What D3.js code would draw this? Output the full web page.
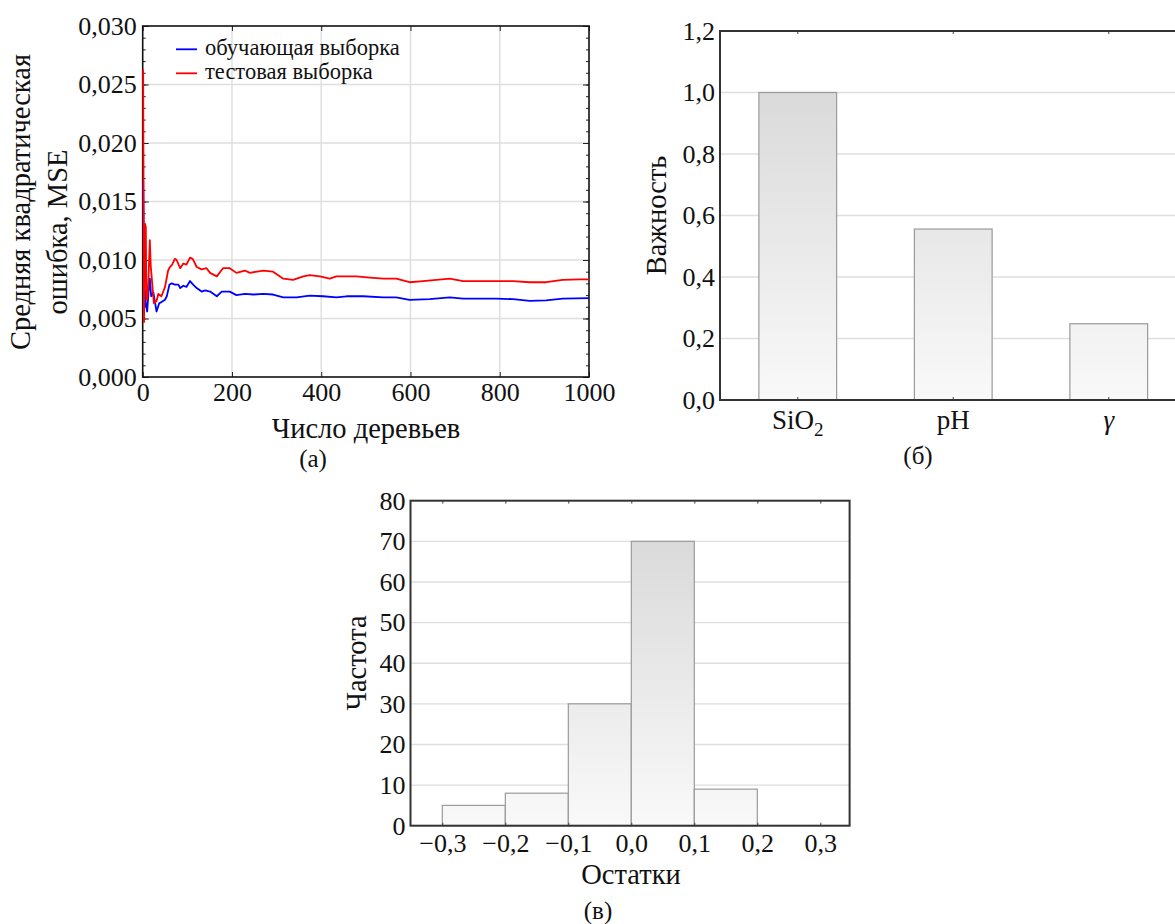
<!DOCTYPE html>
<html><head><meta charset="utf-8">
<script src="https://cdn.jsdelivr.net/npm/d3@7"></script>
<style>
body{margin:0;background:#fff}
svg{display:block}
text{font-family:"Liberation Serif","Times New Roman",serif;fill:#111}
</style>
</head><body>
<svg id="chart" width="1175" height="924"></svg>
<script>
// ---------- DATA ----------
// (а) MSE vs number of trees
const trainTrees = [1,3,4,5,7,10,13,16,19,24,28,31,37,42,50,54,60,65,72,80,84,91,98,106,113,121,132,140,151,166,177,195,210,229,248,270,292,315,345,374,404,434,457,494,539,568,598,643,688,718,755,792,830,867,904,941,1000];
const trainMSE = [0.0168,0.0090,0.0060,0.0074,0.0063,0.0056,0.0072,0.0084,0.0069,0.0072,0.0063,0.0056,0.0063,0.0064,0.0066,0.0069,0.0079,0.0080,0.0079,0.0079,0.0076,0.0078,0.0077,0.0082,0.0079,0.0076,0.0073,0.0074,0.0073,0.0069,0.0073,0.0073,0.0070,0.0071,0.00705,0.0071,0.00705,0.0068,0.0068,0.00695,0.0069,0.0068,0.0069,0.0069,0.0068,0.0068,0.0066,0.00665,0.0068,0.0067,0.0067,0.0067,0.00665,0.0065,0.00655,0.0067,0.00675];
const testTrees = [1,3,4,5,7,8,9,11,13,16,18,20,25,31,35,42,50,57,61,66,72,76,84,91,98,106,112,121,132,143,151,166,180,195,210,229,240,270,292,315,337,360,374,397,419,434,479,509,539,568,598,628,688,718,755,792,830,867,904,941,979,1000];
const testMSE = [0.0263,0.0047,0.0090,0.0131,0.0128,0.0075,0.0066,0.0070,0.0085,0.0117,0.0095,0.0086,0.0063,0.0065,0.0071,0.0069,0.0077,0.0091,0.0094,0.0096,0.0101,0.0100,0.0093,0.0097,0.0096,0.0102,0.0101,0.0094,0.0092,0.0093,0.0089,0.0086,0.0093,0.0093,0.0089,0.0091,0.0089,0.0091,0.0090,0.0084,0.0083,0.0086,0.0087,0.0086,0.0084,0.0086,0.0086,0.0085,0.0084,0.0084,0.0081,0.0082,0.0084,0.0082,0.0082,0.0082,0.0082,0.0081,0.0081,0.0083,0.00835,0.00835];
const seriesNames = ["обучающая выборка","тестовая выборка"];
const seriesColors = ["#0000ff","#ff0000"];
const mseTicks = [0,0.005,0.010,0.015,0.020,0.025,0.030];
const treeTicks = [0,200,400,600,800,1000];

// (б) feature importance
const featureNames = ["SiO2","pH","gamma"];
const importance = [1.0,0.556,0.248];
const importanceTicks = [0,0.2,0.4,0.6,0.8,1.0,1.2];

// (в) residual histogram
const binStart = [-0.3,-0.2,-0.1,0.0,0.1,0.2];
const binEnd = [-0.2,-0.1,0.0,0.1,0.2,0.3];
const binCounts = [5,8,30,70,9,0];
const residualTicks = [-0.3,-0.2,-0.1,0.0,0.1,0.2,0.3];
const countTicks = [0,10,20,30,40,50,60,70,80];

// ---------- HELPERS ----------
const svg = d3.select("#chart");
const comma = f => v => d3.format(f)(v).replace(".", ",");
const TICK_FS = 26, TITLE_FS = 28.5, SUB_FS = 25;
function styleAxis(g, fs){
  g.attr("font-family", null).attr("font-size", null);
  g.select(".domain").remove();
  g.selectAll("text").style("font-size", fs + "px").attr("fill", "#111");
  return g;
}
function gradient(id, y1, y2){
  const lg = svg.append("defs").append("linearGradient").attr("id", id)
    .attr("gradientUnits","userSpaceOnUse").attr("x1",0).attr("x2",0).attr("y1",y1).attr("y2",y2);
  lg.append("stop").attr("offset",0).attr("stop-color","#dadada");
  lg.append("stop").attr("offset",1).attr("stop-color","#f9f9f9");
}

// ---------- PANEL (а) ----------
const A = {l:142.7, r:589, t:26, b:377};
const xA = d3.scaleLinear().domain([0,1000]).range([A.l,A.r]);
const yA = d3.scaleLinear().domain([0,0.030]).range([A.b,A.t]);
const gA = svg.append("g");
// grid
gA.append("g").selectAll("line").data(treeTicks.slice(1,-1)).join("line")
  .attr("x1",d=>xA(d)).attr("x2",d=>xA(d)).attr("y1",A.t).attr("y2",A.b)
  .attr("stroke","#dedede").attr("stroke-width",1.4);
gA.append("g").selectAll("line").data(mseTicks.slice(1,-1)).join("line")
  .attr("x1",A.l).attr("x2",A.r).attr("y1",d=>yA(d)).attr("y2",d=>yA(d))
  .attr("stroke","#dedede").attr("stroke-width",1.4);
// minor ticks
const minorA = d3.range(0, 0.0305, 0.001);
gA.append("g").attr("transform",`translate(${A.l},0)`)
  .call(d3.axisLeft(yA).tickValues(minorA).tickSize(-3).tickFormat(""))
  .call(g=>styleAxis(g,TICK_FS)).selectAll("line").attr("stroke","#222");
gA.append("g").attr("transform",`translate(${A.r},0)`)
  .call(d3.axisRight(yA).tickValues(minorA).tickSize(-3).tickFormat(""))
  .call(g=>styleAxis(g,TICK_FS)).selectAll("line").attr("stroke","#222");
// major ticks + labels
gA.append("g").attr("transform",`translate(${A.l},0)`)
  .call(d3.axisLeft(yA).tickValues(mseTicks).tickSize(-6).tickPadding(6).tickFormat(comma(".3f")))
  .call(g=>styleAxis(g,TICK_FS)).selectAll("line").attr("stroke","#222");
gA.append("g").attr("transform",`translate(${A.r},0)`)
  .call(d3.axisRight(yA).tickValues(mseTicks).tickSize(-6).tickFormat(""))
  .call(g=>styleAxis(g,TICK_FS)).selectAll("line").attr("stroke","#222");
gA.append("g").attr("transform",`translate(0,${A.b})`)
  .call(d3.axisBottom(xA).tickValues(treeTicks).tickSize(-5).tickPadding(6).tickFormat(d3.format("d")))
  .call(g=>styleAxis(g,TICK_FS)).selectAll("line").attr("stroke","#222");
gA.append("g").attr("transform",`translate(0,${A.t})`)
  .call(d3.axisTop(xA).tickValues(treeTicks).tickSize(-5).tickFormat(""))
  .call(g=>styleAxis(g,TICK_FS)).selectAll("line").attr("stroke","#222");
// frame
gA.append("rect").attr("x",A.l).attr("y",A.t).attr("width",A.r-A.l).attr("height",A.b-A.t)
  .attr("fill","none").attr("stroke","#111").attr("stroke-width",1.6);
// lines (drawn over the frame, as in the reference)
const lineA = d3.line().x(d=>xA(d[0])).y(d=>yA(d[1]));
const trainPts = d3.zip(trainTrees, trainMSE);
const testPts = d3.zip(testTrees, testMSE);
gA.append("path").datum(trainPts).attr("d",lineA).attr("fill","none")
  .attr("stroke",seriesColors[0]).attr("stroke-width",1.8).attr("stroke-linejoin","round");
gA.append("path").datum(testPts).attr("d",lineA).attr("fill","none")
  .attr("stroke",seriesColors[1]).attr("stroke-width",1.8).attr("stroke-linejoin","round");
// legend
const legA = gA.append("g").selectAll("g").data(seriesNames).join("g")
  .attr("transform",(d,i)=>`translate(176,${49.3+i*24})`);
legA.append("line").attr("x1",0).attr("x2",21).attr("y1",0).attr("y2",0)
  .attr("stroke",(d,i)=>seriesColors[i]).attr("stroke-width",1.8);
legA.append("text").attr("x",29).attr("y",6).style("font-size","22.5px").text(d=>d);
// titles
svg.append("text").attr("transform","translate(30,202) rotate(-90)").attr("text-anchor","middle")
  .style("font-size",TITLE_FS+"px").text("Средняя квадратическая");
svg.append("text").attr("transform","translate(67,232) rotate(-90)").attr("text-anchor","middle")
  .style("font-size",TITLE_FS+"px").text("ошибка, MSE");
svg.append("text").attr("x",366).attr("y",438).attr("text-anchor","middle")
  .style("font-size",TITLE_FS+"px").text("Число деревьев");
svg.append("text").attr("x",313).attr("y",467).attr("text-anchor","middle")
  .style("font-size",SUB_FS+"px").text("(а)");

// ---------- PANEL (б) ----------
const B = {l:720, r:1186.5, t:31, b:400};
const xB = d3.scaleBand().domain(featureNames).range([B.l,B.r]).paddingInner(0.5).paddingOuter(0.25);
const yB = d3.scaleLinear().domain([0,1.2]).range([B.b,B.t]);
gradient("gradB", yB(1.0), yB(0));
const gB = svg.append("g");
gB.append("g").selectAll("line").data(importanceTicks.slice(1,-1)).join("line")
  .attr("x1",B.l).attr("x2",B.r).attr("y1",d=>yB(d)).attr("y2",d=>yB(d))
  .attr("stroke","#dedede").attr("stroke-width",1.4);
gB.append("g").selectAll("rect").data(featureNames).join("rect")
  .attr("x",d=>xB(d)).attr("width",xB.bandwidth())
  .attr("y",(d,i)=>yB(importance[i])).attr("height",(d,i)=>yB(0)-yB(importance[i]))
  .attr("fill","url(#gradB)").attr("stroke","#9a9a9a").attr("stroke-width",1.2);
gB.append("g").attr("transform",`translate(${B.l},0)`)
  .call(d3.axisLeft(yB).tickValues(importanceTicks).tickSize(0).tickPadding(5).tickFormat(comma(".1f")))
  .call(g=>styleAxis(g,TICK_FS));
const axB = gB.append("g").attr("transform",`translate(0,${B.b})`)
  .call(d3.axisBottom(xB).tickSize(-3).tickPadding(10).tickFormat(""))
  .call(g=>styleAxis(g,TICK_FS));
axB.selectAll("line").attr("stroke","#444");
axB.selectAll(".tick text").each(function(d){
  const t = d3.select(this).text(null).attr("dy","0.71em").style("font-size","27px");
  if(d==="SiO2"){ t.append("tspan").text("SiO"); t.append("tspan").attr("dy","7").style("font-size","19px").text("2"); }
  else if(d==="gamma"){ t.append("tspan").style("font-style","italic").text("γ"); }
  else t.text(d);
});
gB.append("g").attr("transform",`translate(0,${B.t})`)
  .call(d3.axisTop(xB).tickSize(-3).tickFormat(""))
  .call(g=>styleAxis(g,TICK_FS)).selectAll("line").attr("stroke","#444");
gB.append("path").attr("d",`M${B.r},${B.t}H${B.l}V${B.b}H${B.r}`)
  .attr("fill","none").attr("stroke","#333").attr("stroke-width",2);
svg.append("text").attr("transform","translate(666,215.5) rotate(-90)").attr("text-anchor","middle")
  .style("font-size",TITLE_FS+"px").text("Важность");
svg.append("text").attr("x",918).attr("y",464).attr("text-anchor","middle")
  .style("font-size",SUB_FS+"px").text("(б)");

// ---------- PANEL (в) ----------
const C = {l:410.5, r:849.6, t:500.7, b:825.7};
const xC = d3.scaleLinear().domain([-0.3505,0.3465]).range([C.l,C.r]);
const yC = d3.scaleLinear().domain([0,80]).range([C.b,C.t]);
gradient("gradC", yC(70), yC(0));
const gC = svg.append("g");
gC.append("g").selectAll("line").data(countTicks.slice(1,-1)).join("line")
  .attr("x1",C.l).attr("x2",C.r).attr("y1",d=>yC(d)).attr("y2",d=>yC(d))
  .attr("stroke","#dedede").attr("stroke-width",1.4);
gC.append("g").selectAll("rect").data(binCounts.map((c,i)=>({c,s:binStart[i],e:binEnd[i]})).filter(d=>d.c>0)).join("rect")
  .attr("x",d=>xC(d.s)).attr("width",d=>xC(d.e)-xC(d.s))
  .attr("y",d=>yC(d.c)).attr("height",d=>yC(0)-yC(d.c))
  .attr("fill","url(#gradC)").attr("stroke","#9a9a9a").attr("stroke-width",1.2);
gC.append("g").attr("transform",`translate(${C.l},0)`)
  .call(d3.axisLeft(yC).tickValues(countTicks).tickSize(0).tickPadding(5).tickFormat(d3.format("d")))
  .call(g=>styleAxis(g,TICK_FS));
gC.append("g").attr("transform",`translate(0,${C.b})`)
  .call(d3.axisBottom(xC).tickValues(residualTicks).tickSize(-3).tickPadding(8).tickFormat(comma(".1f")))
  .call(g=>styleAxis(g,TICK_FS)).selectAll("line").attr("stroke","#444");
gC.append("g").attr("transform",`translate(0,${C.t})`)
  .call(d3.axisTop(xC).tickValues(residualTicks).tickSize(-3).tickFormat(""))
  .call(g=>styleAxis(g,TICK_FS)).selectAll("line").attr("stroke","#444");
gC.append("rect").attr("x",C.l).attr("y",C.t).attr("width",C.r-C.l).attr("height",C.b-C.t)
  .attr("fill","none").attr("stroke","#333").attr("stroke-width",2);
svg.append("text").attr("transform","translate(366,663) rotate(-90)").attr("text-anchor","middle")
  .style("font-size",TITLE_FS+"px").text("Частота");
svg.append("text").attr("x",631).attr("y",884).attr("text-anchor","middle")
  .style("font-size",TITLE_FS+"px").text("Остатки");
svg.append("text").attr("x",598).attr("y",919).attr("text-anchor","middle")
  .style("font-size",SUB_FS+"px").text("(в)");
</script>
</body></html>
